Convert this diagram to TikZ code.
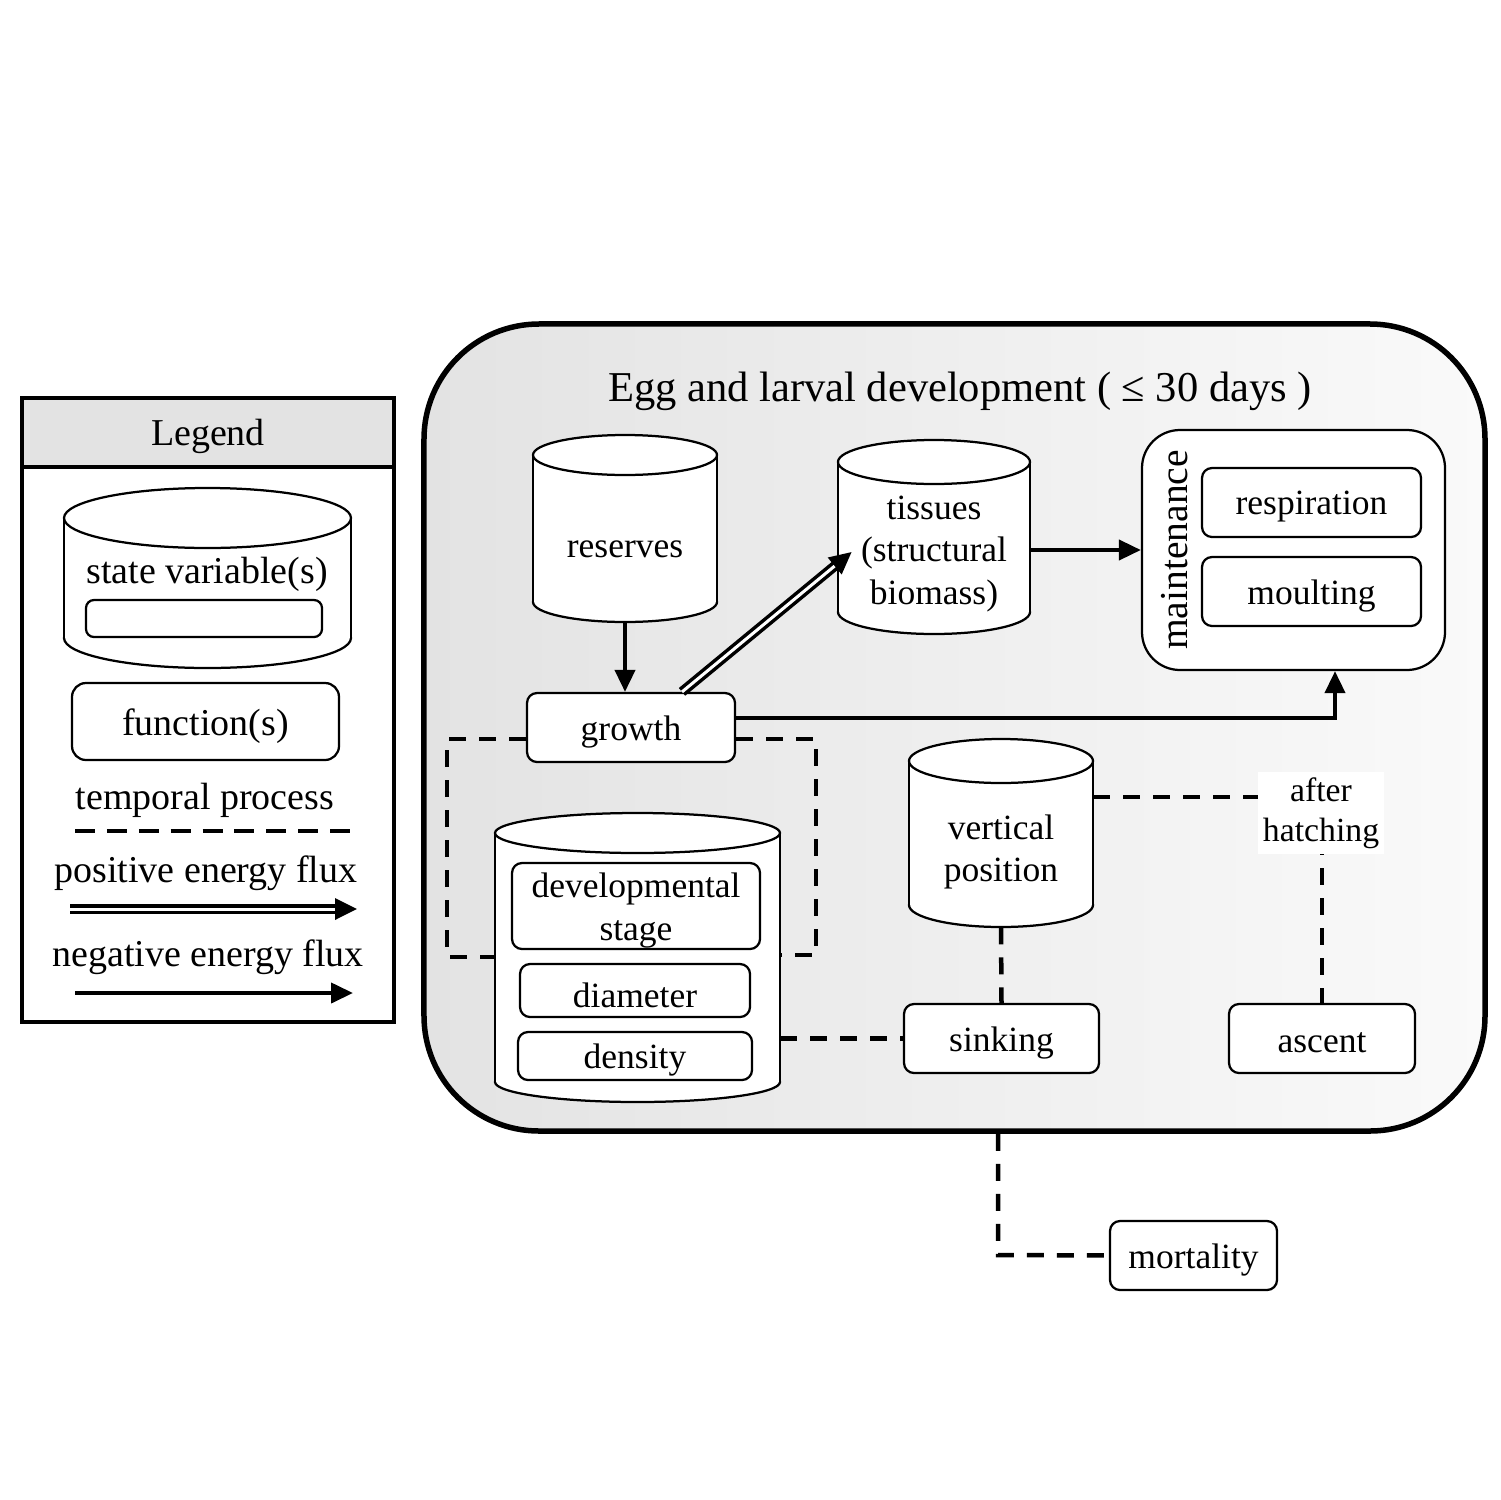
\documentclass[tikz,border=0pt]{standalone}
\usepackage{fontspec}
\setmainfont{Liberation Serif}
\usetikzlibrary{arrows.meta,calc}
\newcommand\fmain{\fontsize{20.2}{24.2}\selectfont}
\newcommand\flegend{\fontsize{21.6}{26}\selectfont}
\newcommand\ftitle{\fontsize{24.2}{29}\selectfont}
\newcommand\fmaint{\fontsize{22.5}{27}\selectfont}
\newcommand\fah{\fontsize{19.2}{22.7}\selectfont}
\tikzset{
  cylst/.style={draw=black, fill=white, line width=0.45mm},
  fbox/.style={draw=black, fill=white, line width=0.45mm, rounded corners=2mm, inner sep=0pt},
  dashln/.style={line width=0.9mm, dash pattern=on 3.4mm off 2.6mm},
  negarr/.style={line width=0.8mm, -{Triangle[length=4.4mm,width=4mm]}},
  posarr/.style={double, line width=0.7mm, double distance=0.6mm, -{Triangle[length=4.4mm,width=4.2mm]}},
  txt/.style={align=center, inner sep=0pt}
}
\newcommand\cylshape[6]{%
  \filldraw[cylst] (#2,#4-#6) ellipse [x radius=#5, y radius=#6];
  \fill[white] (#2-#5,#3+#6) rectangle (#2+#5,#4-#6);
  \draw[cylst] (#2-#5,#3+#6) -- (#2-#5,#4-#6) (#2+#5,#3+#6) -- (#2+#5,#4-#6);
  \filldraw[cylst] (#2,#3+#6) ellipse [x radius=#5, y radius=#6];
  \node[inner sep=0pt, minimum width={2*#5*0.2mm}, minimum height={(#4-#3)*0.2mm}] (#1) at (#2,{(#3+#4)/2}) {};
}
% box node with its text set slightly low: name, x, y, width, height, text, [extra box options]
\newcommand\fnode[7][]{%
  \node[fbox, minimum width=#5, minimum height=#6, #1] (#2) at (#3,#4) {};
  \node[txt, font=\fmain, yshift=-0.9mm] (#2-t) at (#2) {#7};
}
\begin{document}
\begin{tikzpicture}[x=0.2mm, y=-0.2mm]
\useasboundingbox (0,0) rectangle (1500,1500);
\fill[white] (0,0) rectangle (1500,1500);

% ---------------- Legend ----------------
\fill[black!11] (22,398) rectangle (394,467);
\draw[line width=0.8mm] (22,398) rectangle (394,1022);
\draw[line width=0.8mm] (22,467) -- (394,467);
\node[txt, font=\flegend] (legtitle) at (208,436) {Legend};
\cylshape{legcyl}{207.5}{488}{668}{143.5}{30}
\node[txt, font=\flegend] (legsv) at (207,574) {state variable(s)};
\node[fbox, rounded corners=1.6mm, minimum width=47.2mm, minimum height=7.4mm] (legin) at (204,618.5) {};
\node[fbox, rounded corners=2.8mm, minimum width=53.4mm, minimum height=15.4mm] (legfn) at (205.5,721.5) {};
\node[txt, font=\flegend, yshift=-0.9mm] (legfn-t) at (legfn) {function(s)};
\node[txt, font=\flegend] (legtp) at (205,800) {temporal process};
\coordinate (d1) at (75,831);
\coordinate (d2) at (350,831);
\draw[dashln, dash pattern=on 4mm off 2.375mm] (d1) -- (d2);
\node[txt, font=\flegend] (legpos) at (206,873) {positive energy flux};
\coordinate (p1) at (70,909);
\coordinate (p2) at (357,909);
\draw[posarr] (p1) -- (p2);
\node[txt, font=\flegend] (legneg) at (208,957) {negative energy flux};
\coordinate (n1) at (75,993);
\coordinate (n2) at (353,993);
\draw[negarr] (n1) -- (n2);

% ---------------- Main container ----------------
\node[draw=black, line width=1.1mm, rounded corners=23mm, minimum width=212.2mm, minimum height=161.4mm,
      left color=black!11, right color=black!2, inner sep=0pt] (devbox) at (954.5,727.5) {};
\node[txt, font=\ftitle] (title) at (960,391) {Egg and larval development ( ≤ 30 days )};

% reserves
\cylshape{res}{625}{435}{622}{92}{20}
\node[txt, font=\fmain] (restxt) at (625,549) {reserves};
% tissues
\cylshape{tis}{934}{440}{634}{96}{22}
\node[txt, font=\fmain] (tistxt) at (934,554) {tissues\\(structural\\biomass)};

% maintenance
\node[fbox, rounded corners=7.6mm, minimum width=60.6mm, minimum height=48mm] (maint) at (1293.5,550) {};
\node[txt, font=\fmaint, rotate=90] (mainttxt) at (1175,550) {maintenance};
\fnode{resp}{1311.5}{502.5}{43.8mm}{13.8mm}{respiration}
\fnode{moult}{1311.5}{591.5}{43.8mm}{13.8mm}{moulting}

% growth
\fnode{growth}{631}{727.5}{41.6mm}{13.8mm}{growth}

% developmental cylinder
\cylshape{devc}{637.5}{813}{1102}{142.5}{20}
\fnode{stage}{636}{906}{49.6mm}{17.2mm}{developmental\\stage}
\fnode{diam}{635}{990.5}{46mm}{10.6mm}{diameter}
\fnode{dens}{635}{1056}{46.8mm}{9.6mm}{density}

% vertical position
\cylshape{vp}{1001}{739}{927}{92}{22}
\node[txt, font=\fmain] (vptxt) at (1001,852) {vertical\\position};

% sinking, ascent, mortality
\fnode{sink}{1001.5}{1038.5}{39mm}{13.8mm}{sinking}
\fnode{asc}{1322}{1038.5}{37.2mm}{13.8mm}{ascent}
\fnode{mort}{1193.5}{1255.5}{33.4mm}{13.8mm}{mortality}

% ---------------- Connectors ----------------
\draw[negarr] (res.south) -- (res.south |- growth.north);
\draw[posarr] ([xshift=10.2mm]growth.north) -- ([xshift=2.8mm,yshift=-3.0mm]tis.west);
\draw[negarr] (tis.east |- maint.west) -- (maint.west);
\draw[negarr] ([yshift=1.9mm]growth.east) -| ([xshift=8.3mm]maint.south);

\coordinate (L1) at (447,957);
\coordinate (R1) at (816,955);
\draw[dashln] ([yshift=-2.3mm]growth.west) -| (L1) -- (L1 -| devc.west);
\draw[dashln] ([yshift=-2.3mm]growth.east) -| (R1) -- (R1 -| devc.east);

\draw[dashln] (sink.west -| devc.east) -- (sink.west);
\draw[dashln] (vp.south) -- (sink.north);
\draw[dashln] ([yshift=7.2mm]vp.east) -| (asc.north);
\node[fill=white, align=center, font=\fah, inner xsep=1.0mm, inner ysep=1.2mm] (ah) at (1321,813) {after\\hatching};

\coordinate (m1) at (998,1255);
\draw[dashln] (m1 |- devbox.south) -- (m1) -- (mort.west);
\end{tikzpicture}
\end{document}
